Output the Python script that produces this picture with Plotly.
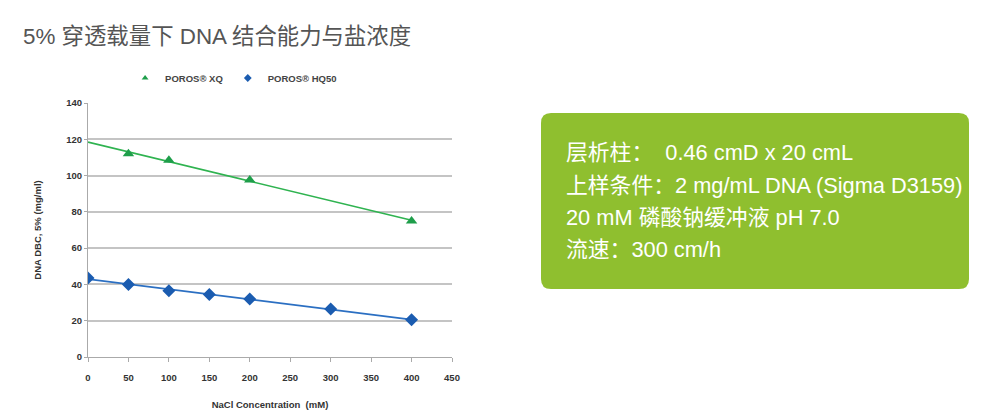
import numpy as np
import plotly.graph_objects as go

# ---- data ----
xq_x = [50, 100, 200, 400]
xq_y = [112, 108.5, 97.5, 75]
hq_x = [0, 50, 100, 150, 200, 300, 400]
hq_y = [43.5, 40, 36.5, 34.5, 32, 26.5, 20.5]
trend_x = [0, 400]

x_ticks = [0, 50, 100, 150, 200, 250, 300, 350, 400, 450]
y_ticks = [0, 20, 40, 60, 80, 100, 120, 140]

title_text = "5% 穿透载量下 DNA 结合能力与盐浓度"
box_lines = [
    "层析柱：  0.46 cmD x 20 cmL",
    "上样条件：2 mg/mL DNA (Sigma D3159)",
    "20 mM 磷酸钠缓冲液 pH 7.0",
    "流速：300 cm/h",
]

green_m = "#1e9e4a"
green_l = "#2fb350"
blue_m = "#1b5cb0"
blue_l = "#2b6fc2"

W, H = 1000, 417
L, R, T, B = 88, 548, 103, 60
pw, ph = W - L - R, H - T - B


def px2paper(px, py):
    return (px - L) / pw, (H - B - py) / ph


def fit(xs, ys):
    k, b = np.polyfit(xs, ys, 1)
    return [k * x + b for x in trend_x]


fig = go.Figure()
fig.add_trace(go.Scatter(x=trend_x, y=fit(xq_x, xq_y), mode="lines",
                         line=dict(color=green_l, width=1.6), showlegend=False,
                         hoverinfo="skip"))
fig.add_trace(go.Scatter(x=trend_x, y=fit(hq_x, hq_y), mode="lines",
                         line=dict(color=blue_l, width=1.8), showlegend=False,
                         hoverinfo="skip"))
fig.add_trace(go.Scatter(x=xq_x, y=xq_y, mode="markers", name="POROS® XQ",
                         marker=dict(symbol="triangle-up", size=10, color=green_m),
                         showlegend=False))
fig.add_trace(go.Scatter(x=hq_x, y=hq_y, mode="markers", name="POROS® HQ50",
                         marker=dict(symbol="diamond", size=10, color=blue_m),
                         showlegend=False))
# legend entries (small symbols, as in the reference)
fig.add_trace(go.Scatter(x=[None], y=[None], mode="markers", name="<b>POROS® XQ</b>",
                         marker=dict(symbol="triangle-up", size=6, color=green_m)))
fig.add_trace(go.Scatter(x=[None], y=[None], mode="markers", name="<b>POROS® HQ50</b>",
                         marker=dict(symbol="diamond", size=6, color=blue_m)))

tick_font = dict(family="Liberation Sans, Arial, sans-serif", size=9.5, color="#333333")

fig.update_xaxes(range=[0, 450], tickvals=x_ticks, ticktext=[f"<b>{v}</b>" for v in x_ticks],
                 showgrid=False, zeroline=False, showline=True, linecolor="#aaaaaa",
                 linewidth=1, ticks="outside", ticklen=4, tickcolor="#aaaaaa",
                 tickfont=tick_font, ticklabelstandoff=8, automargin=False,
                 title=dict(text="<b>NaCl Concentration  (mM)</b>",
                            font=dict(family="Liberation Sans, Arial", size=9.5, color="#333333"),
                            standoff=18))
fig.update_yaxes(range=[0, 140], tickvals=y_ticks, ticktext=[f"<b>{v}</b>" for v in y_ticks],
                 showgrid=True, gridcolor="#c4c4c4", gridwidth=1.5, zeroline=False,
                 showline=True, linecolor="#aaaaaa", linewidth=1, ticks="outside",
                 ticklen=3, tickcolor="#aaaaaa", tickfont=tick_font, automargin=False,
                 title=dict(text="<b>DNA DBC, 5% (mg/ml)</b>",
                            font=dict(family="Liberation Sans, Arial", size=9.5, color="#333333"),
                            standoff=22))

# green rounded info box
x0, y0 = px2paper(541, 289)
x1, y1 = px2paper(969, 113)
rx, ry = 10 / pw, 10 / ph
path = (f"M {x0+rx},{y0} L {x1-rx},{y0} Q {x1},{y0} {x1},{y0+ry} "
        f"L {x1},{y1-ry} Q {x1},{y1} {x1-rx},{y1} L {x0+rx},{y1} "
        f"Q {x0},{y1} {x0},{y1-ry} L {x0},{y0+ry} Q {x0},{y0} {x0+rx},{y0} Z")
fig.add_shape(type="path", path=path, xref="paper", yref="paper",
              fillcolor="#8fbf2f", line=dict(width=0), layer="below")

line_y = [152, 185, 217, 249]
for txt, py in zip(box_lines, line_y):
    ax, ay = px2paper(564, py)
    fig.add_annotation(text=txt, x=ax, y=ay, xref="paper", yref="paper",
                       xanchor="left", yanchor="middle", showarrow=False,
                       font=dict(family="Liberation Sans, Noto Sans CJK SC, sans-serif",
                                 size=21.8, color="white"))

tx, ty = px2paper(21, 36)
fig.add_annotation(text=title_text, x=tx, y=ty, xref="paper", yref="paper",
                   xanchor="left", yanchor="middle", showarrow=False,
                   font=dict(family="Liberation Sans, Noto Sans CJK SC, sans-serif",
                             size=22.4, color="#555555"))

fig.update_layout(
    width=W, height=H, margin=dict(l=L, r=R, t=T, b=B),
    paper_bgcolor="white", plot_bgcolor="white",
    legend=dict(orientation="h", x=0.40, xanchor="center", y=px2paper(0, 78)[1],
                yanchor="middle", font=dict(family="Liberation Sans, Arial", size=9.5,
                                            color="#444444"),
                itemwidth=30, tracegroupgap=0, bgcolor="rgba(0,0,0,0)"),
)

fig.write_html("out.html")
